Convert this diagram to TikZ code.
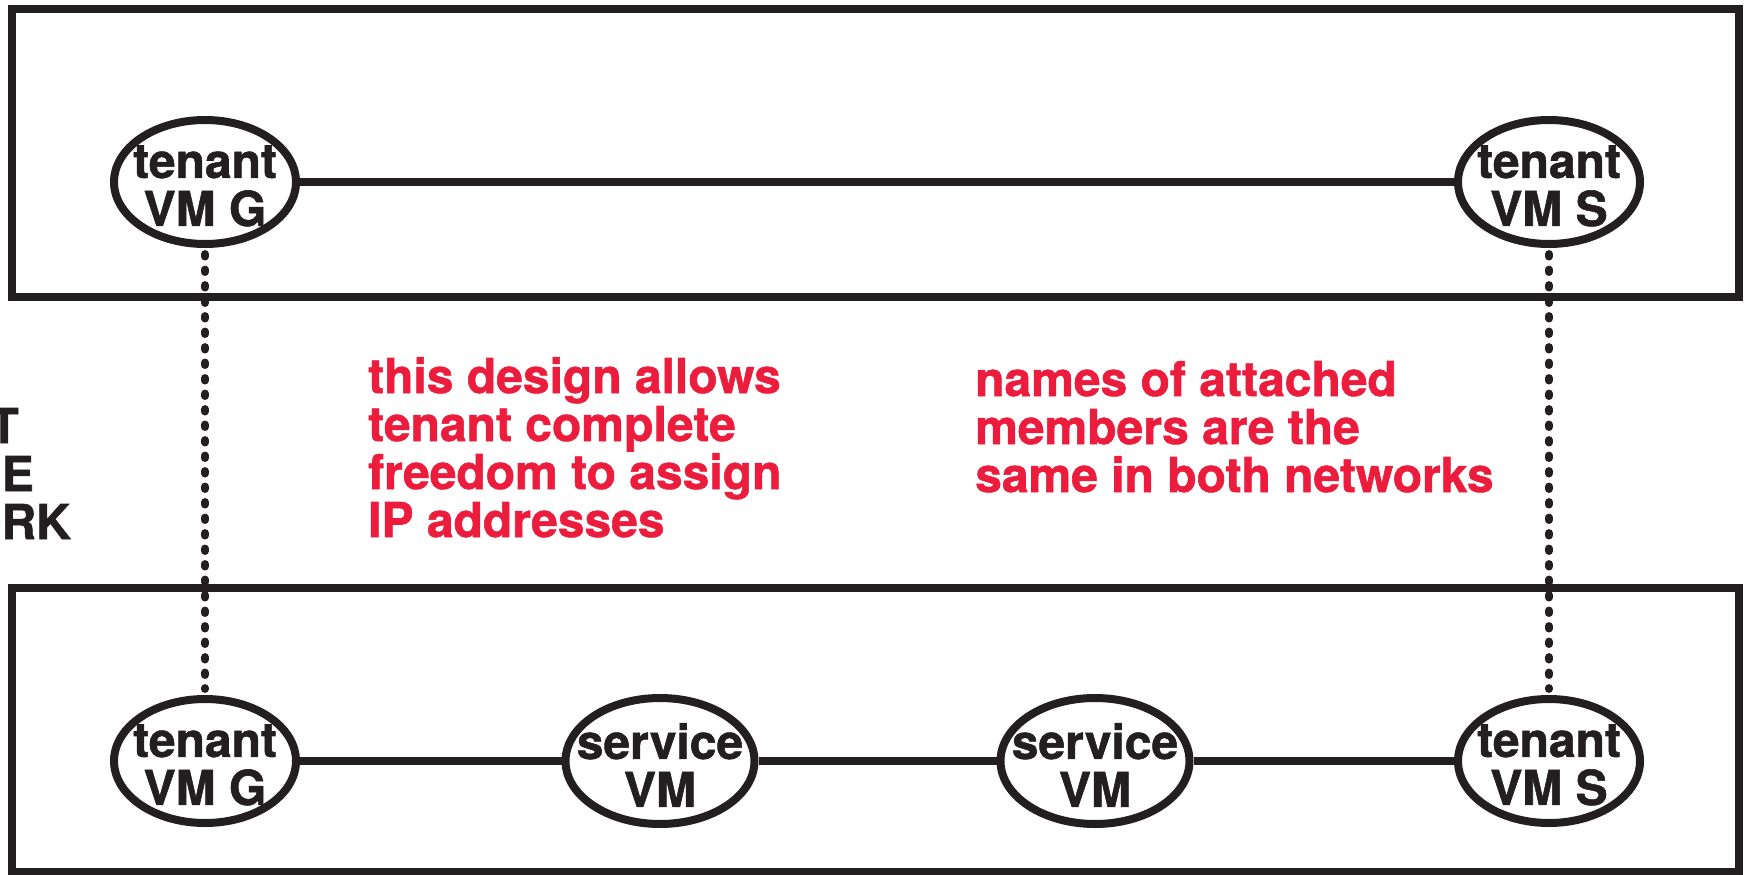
\documentclass[tikz,border=0pt]{standalone}
\usepackage{fontspec}
\setmainfont{TeX Gyre Heros}[BoldFeatures={FakeBold=1.2}]
\usetikzlibrary{shapes.geometric}
\definecolor{ink}{HTML}{231F20}
\definecolor{note}{HTML}{EC1C3C}
\begin{document}
\begin{tikzpicture}[x=1pt,y=-1pt,
  every node/.style={inner sep=0pt},
  bigfont/.style={font=\fontsize{48}{48}\selectfont\bfseries},
  netbox/.style={draw=ink, line width=8pt},
  vmtext/.style={bigfont, text=ink, align=center, yshift=-4pt},
  vm/.style={ellipse, draw=ink, line width=8pt, minimum width=182pt,
    minimum height=124pt, label={[vmtext]center:{#1}}},
  svm/.style={vm={#1}, minimum width=189pt, minimum height=126pt},
  link/.style={draw=ink, line width=8pt},
  mapping/.style={draw=ink, line width=7.8pt, line cap=round,
    dash pattern=on 2.6pt off 12.9pt},
  remark/.style={bigfont, text=note, align=left, anchor=base west},
  sidelabel/.style={bigfont, text=ink, anchor=base east}]
\useasboundingbox (0,0) rectangle (1751,875);
\clip (0,0) rectangle (1751,875);

% the two networks
\draw[netbox] (12,9) rectangle (1739,297);
\draw[netbox] (12,588) rectangle (1739,872);

% members of the upper network
\node[vm={tenant\\VM G}] (gTop) at (205,182) {};
\node[vm={tenant\\VM S}] (sTop) at (1549,182) {};

% members of the lower network
\node[vm={tenant\\VM G}] (gBot) at (205,761) {};
\node[svm={service\\VM}] (sv1) at (660,761) {};
\node[svm={service\\VM}] (sv2) at (1095,761) {};
\node[vm={tenant\\VM S}] (sBot) at (1549,761) {};

% links inside each network
\draw[link] (gTop) -- (sTop);
\draw[link] (gBot) -- (sv1);
\draw[link] (sv1) -- (sv2);
\draw[link] (sv2) -- (sBot);

% same member in both networks
\draw[mapping] ([yshift=-6pt]gTop.south) -- ([yshift=6pt]gBot.north);
\draw[mapping] ([yshift=-6pt]sTop.south) -- ([yshift=6pt]sBot.north);

% remarks (anchored on the baseline of their last line)
\node[remark] (noteL) at (368,537)
  {this design allows\\tenant complete\\freedom to assign\\IP addresses};
\node[remark] (noteR) at (975,492)
  {names of attached\\members are the\\same in both networks};

% label running off the left edge
\node[sidelabel] (sideA) at (19,443) {T};
\node[sidelabel] (sideB) at (34,491) {E};
\node[sidelabel] (sideC) at (71,539) {ORK};
\end{tikzpicture}
\end{document}
